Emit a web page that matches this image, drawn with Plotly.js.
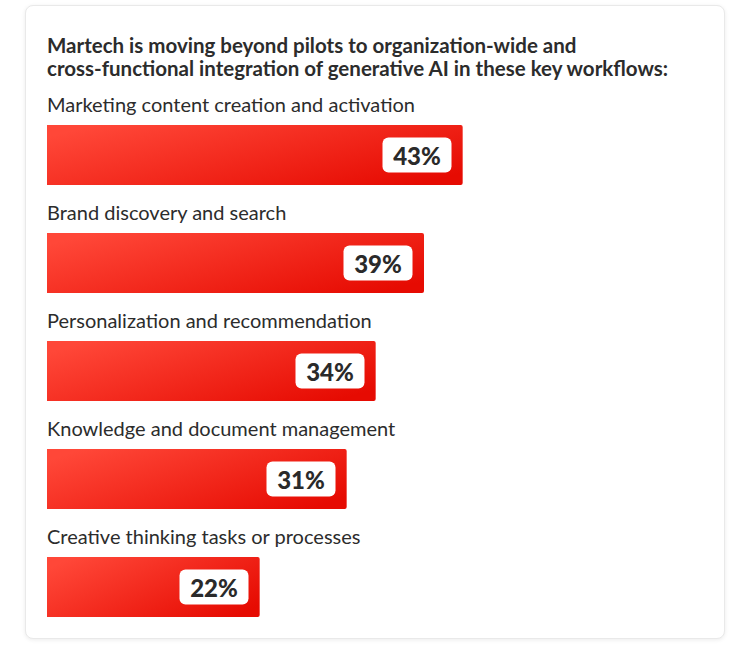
<!DOCTYPE html>
<html>
<head>
<meta charset="utf-8">
<script src="https://cdn.plot.ly/plotly-3.0.1.min.js"></script>
<style>
  html, body { margin: 0; padding: 0; background: #ffffff; width: 750px; height: 649px; overflow: hidden; }
  #card { position: absolute; left: 25px; top: 5px; width: 698px; height: 632px;
          border: 1px solid #e9e9e9; border-radius: 8px; background: #ffffff;
          box-shadow: 0 1px 4px rgba(0,0,0,0.08); }
  #chart { position: absolute; left: 0; top: 0; width: 750px; height: 649px; }
</style>
</head>
<body>
<div id="card"></div>
<div id="chart"></div>
<script>
const titleLines = [
  "Martech is moving beyond pilots to organization-wide and",
  "cross-functional integration of generative AI in these key workflows:"
];
const categories = [
  "Marketing content creation and activation",
  "Brand discovery and search",
  "Personalization and recommendation",
  "Knowledge and document management",
  "Creative thinking tasks or processes"
];
const values = [43, 39, 34, 31, 22];
const valueLabels = values.map(v => v + "%");

const FONT = "Lato, 'Open Sans', sans-serif";

const trace = {
  type: "bar",
  orientation: "h",
  x: values,
  y: categories,
  width: 0.556,
  marker: { color: "#f5281c", line: { width: 0 } },
  hoverinfo: "skip"
};

const annotations = [];
const titleShifts = [56, 33];
titleLines.forEach((t, i) => {
  annotations.push({
    xref: "paper", yref: "paper", x: 0, y: 1, xanchor: "left", yanchor: "middle",
    xshift: -2, yshift: titleShifts[i], align: "left", showarrow: false,
    text: "<b>" + t + "</b>",
    font: { family: FONT, size: 20.5, color: "#2c2c2c" }
  });
});
categories.forEach((c, i) => {
  annotations.push({
    xref: "x", yref: "y", x: 0, y: c, xanchor: "left", yanchor: "bottom",
    xshift: -2, yshift: 37, showarrow: false, text: c,
    font: { family: FONT, size: 20, color: "#2c2c2c" }
  });
  annotations.push({
    xref: "x", yref: "y", x: values[i], y: c, xanchor: "right", yanchor: "middle",
    xshift: -11, showarrow: false, text: valueLabels[i],
    bgcolor: "#ffffff", borderpad: 4, width: 60, height: 26,
    font: { family: FONT, size: 24, color: "#2a2a2a", weight: 900 }
  });
});

const layout = {
  width: 750, height: 649,
  margin: { l: 47, r: 123, t: 101, b: 8 },
  paper_bgcolor: "rgba(0,0,0,0)",
  plot_bgcolor: "rgba(0,0,0,0)",
  showlegend: false,
  barcornerradius: 2,
  xaxis: { range: [0, 60], visible: false, fixedrange: true },
  yaxis: { type: "category", range: [4.5, -0.5], visible: false, fixedrange: true },
  annotations: annotations
};

Plotly.newPlot("chart", [trace], layout, { displayModeBar: false, staticPlot: true }).then(gd => {
  const svg = gd.querySelector("svg.main-svg");
  const ns = "http://www.w3.org/2000/svg";
  let defs = svg.querySelector("defs");
  if (!defs) { defs = document.createElementNS(ns, "defs"); svg.insertBefore(defs, svg.firstChild); }
  const grad = document.createElementNS(ns, "linearGradient");
  grad.setAttribute("id", "barGrad");
  grad.setAttribute("x1", "0"); grad.setAttribute("y1", "0.2");
  grad.setAttribute("x2", "1"); grad.setAttribute("y2", "0.8");
  [["0", "#ff4738"], ["1", "#e60b02"]].forEach(([o, col]) => {
    const s = document.createElementNS(ns, "stop");
    s.setAttribute("offset", o); s.setAttribute("stop-color", col);
    grad.appendChild(s);
  });
  defs.appendChild(grad);
  gd.querySelectorAll(".bars .point path").forEach(p => { p.style.fill = "url(#barGrad)"; });
  gd.querySelectorAll(".annotation rect.bg").forEach(r => { r.setAttribute("rx", 6); r.setAttribute("ry", 6); });
});
</script>
</body>
</html>
